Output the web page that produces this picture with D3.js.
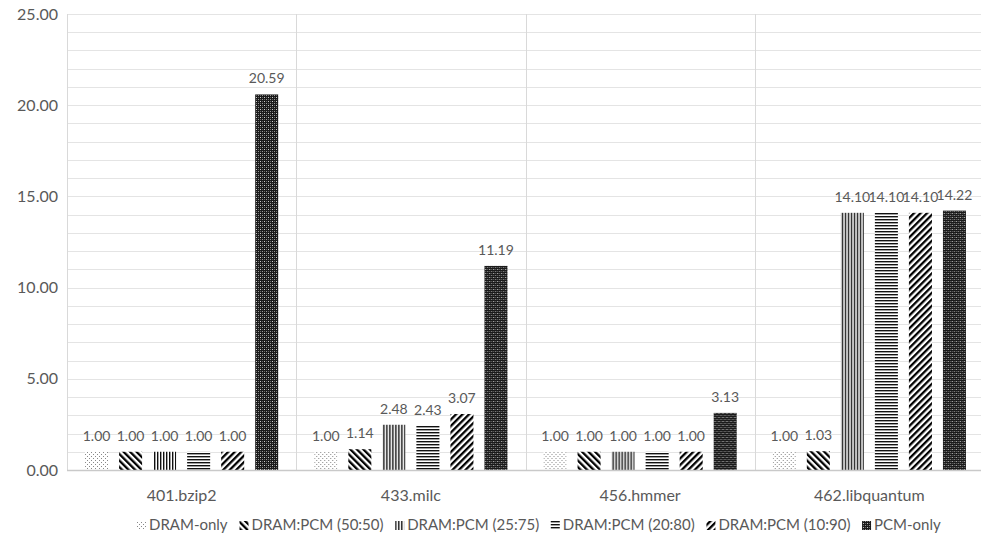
<!DOCTYPE html>
<html>
<head>
<meta charset="utf-8">
<script src="https://cdn.jsdelivr.net/npm/d3@7"></script>
<style>
  html, body { margin: 0; padding: 0; background: #fff; }
  svg { display: block; }
  text { font-family: Lato, "Open Sans", sans-serif; fill: #595959; }
</style>
</head>
<body>
<svg id="chart" width="981" height="541"></svg>
<script>
// Benchmarks and memory configurations
const categories = ["401.bzip2", "433.milc", "456.hmmer", "462.libquantum"];
const series = ["DRAM-only", "DRAM:PCM (50:50)", "DRAM:PCM (25:75)", "DRAM:PCM (20:80)", "DRAM:PCM (10:90)", "PCM-only"];

// Normalised values per configuration, one entry per benchmark
const dramOnly = [1.00, 1.00, 1.00, 1.00];
const dramPcm5050 = [1.00, 1.14, 1.00, 1.03];
const dramPcm2575 = [1.00, 2.48, 1.00, 14.10];
const dramPcm2080 = [1.00, 2.43, 1.00, 14.10];
const dramPcm1090 = [1.00, 3.07, 1.00, 14.10];
const pcmOnly = [20.59, 11.19, 3.13, 14.22];

const yTicks = [0, 5, 10, 15, 20, 25];

const seriesValues = [dramOnly, dramPcm5050, dramPcm2575, dramPcm2080, dramPcm1090, pcmOnly];

const svg = d3.select("#chart");
const margin = { left: 67, right: -3, top: 14, bottom: 71 };
const W = 981, H = 541;
const plotL = margin.left, plotR = W - margin.right, plotT = margin.top, plotB = H - margin.bottom;

const x0 = d3.scaleBand().domain(categories).range([plotL, plotR]).padding(0);
const x1 = d3.scaleBand().domain(series).range([0, x0.bandwidth()])
  .paddingInner(0.3235).paddingOuter(0.53);
const y = d3.scaleLinear().domain([0, 25]).range([plotB, plotT]);

// Fill patterns, one per configuration
const defs = svg.append("defs");
function pat(id, w, h, build, transform) {
  const p = defs.append("pattern").attr("id", id)
    .attr("patternUnits", "userSpaceOnUse").attr("width", w).attr("height", h);
  if (transform) p.attr("patternTransform", transform);
  p.append("rect").attr("width", w).attr("height", h).attr("fill", "#fff");
  build(p);
  return "url(#" + id + ")";
}
const fills = [
  pat("p-dots", 4, 4, p => {
    p.append("rect").attr("x", 0).attr("y", 0).attr("width", 1).attr("height", 1).attr("fill", "#888");
    p.append("rect").attr("x", 2).attr("y", 2).attr("width", 1).attr("height", 1).attr("fill", "#888");
  }),
  pat("p-down", 4.6, 10, p => {
    p.append("rect").attr("width", 2.3).attr("height", 10).attr("fill", "#000");
  }, "rotate(-45)"),
  pat("p-vert", 3, 3, p => {
    p.append("rect").attr("width", 1.4).attr("height", 3).attr("fill", "#111");
  }),
  pat("p-horiz", 3, 3, p => {
    p.append("rect").attr("width", 3).attr("height", 1.4).attr("fill", "#111");
  }),
  pat("p-up", 4.6, 10, p => {
    p.append("rect").attr("width", 2.3).attr("height", 10).attr("fill", "#000");
  }, "rotate(45)"),
  pat("p-grid", 4, 4, p => {
    p.append("rect").attr("width", 4).attr("height", 4).attr("fill", "#1a1a1a");
    p.append("rect").attr("x", 1).attr("y", 1).attr("width", 1).attr("height", 1).attr("fill", "#ccc");
    p.append("rect").attr("x", 3).attr("y", 3).attr("width", 1).attr("height", 1).attr("fill", "#999");
    p.append("rect").attr("x", 1).attr("y", 3).attr("width", 1).attr("height", 1).attr("fill", "#666");
    p.append("rect").attr("x", 3).attr("y", 1).attr("width", 1).attr("height", 1).attr("fill", "#666");
  })
];

// Horizontal gridlines at every unit
const gridVals = d3.range(1, 26);
svg.append("g").selectAll("line").data(gridVals).join("line")
  .attr("x1", plotL).attr("x2", plotR)
  .attr("y1", d => Math.round(y(d)) + 0.5).attr("y2", d => Math.round(y(d)) + 0.5)
  .attr("stroke", "#e4e4e4").attr("stroke-width", 1);

// Vertical separators between benchmarks
const seps = categories.map(c => x0(c));
svg.append("g").selectAll("line").data(seps).join("line")
  .attr("x1", d => Math.round(d) + 0.5).attr("x2", d => Math.round(d) + 0.5)
  .attr("y1", plotT).attr("y2", plotB)
  .attr("stroke", "#d9d9d9").attr("stroke-width", 1);

// Bars
const groups = svg.append("g").selectAll("g").data(categories).join("g")
  .attr("transform", c => `translate(${x0(c)},0)`);
groups.selectAll("rect")
  .data((c, ci) => series.map((s, si) => ({ s, si, v: seriesValues[si][ci] })))
  .join("rect")
  .attr("x", d => x1(d.s))
  .attr("width", x1.bandwidth())
  .attr("y", d => y(d.v))
  .attr("height", d => y(0) - y(d.v))
  .attr("fill", d => fills[d.si]);

// Value labels
groups.selectAll("text")
  .data((c, ci) => series.map((s, si) => ({ s, si, v: seriesValues[si][ci] })))
  .join("text")
  .attr("x", d => x1(d.s) + x1.bandwidth() / 2)
  .attr("y", d => y(d.v) - 11)
  .attr("text-anchor", "middle")
  .attr("font-size", 14)
  .text(d => d3.format(".2f")(d.v));

// Baseline
svg.append("line")
  .attr("x1", plotL).attr("x2", plotR)
  .attr("y1", Math.round(y(0)) + 0.5).attr("y2", Math.round(y(0)) + 0.5)
  .attr("stroke", "#c9c9c9").attr("stroke-width", 1.5);

// Y axis labels
const yAxis = d3.axisLeft(y).tickValues(yTicks).tickFormat(d3.format(".2f")).tickSize(0).tickPadding(9);
const ya = svg.append("g").attr("transform", `translate(${plotL},0)`).call(yAxis);
ya.select(".domain").remove();
ya.selectAll("text").attr("font-size", 16).attr("fill", "#595959")
  .style("font-family", "Lato, 'Open Sans', sans-serif");

// X axis labels
const xAxis = d3.axisBottom(x0).tickSize(0).tickPadding(20);
const xa = svg.append("g").attr("transform", `translate(0,${plotB})`).call(xAxis);
xa.select(".domain").remove();
xa.selectAll("text").attr("font-size", 16).attr("fill", "#595959")
  .style("font-family", "Lato, 'Open Sans', sans-serif");

// Legend spread across a fixed span below the axis
const legend = svg.append("g");
const items = legend.selectAll("g").data(series).join("g");
items.append("rect").attr("width", 9).attr("height", 9).attr("y", -9)
  .attr("fill", (d, i) => fills[i]);
items.append("text").attr("x", 12).attr("y", 0).attr("font-size", 15).text(d => d);
const widths = [];
items.each(function () { widths.push(this.getBBox().width); });
const legL = 137, legR = 941;
const gap = (legR - legL - d3.sum(widths)) / (widths.length - 1);
let cx = legL;
items.attr("transform", (d, i) => {
  const t = `translate(${cx},530)`;
  cx += widths[i] + gap;
  return t;
});
</script>
</body>
</html>
